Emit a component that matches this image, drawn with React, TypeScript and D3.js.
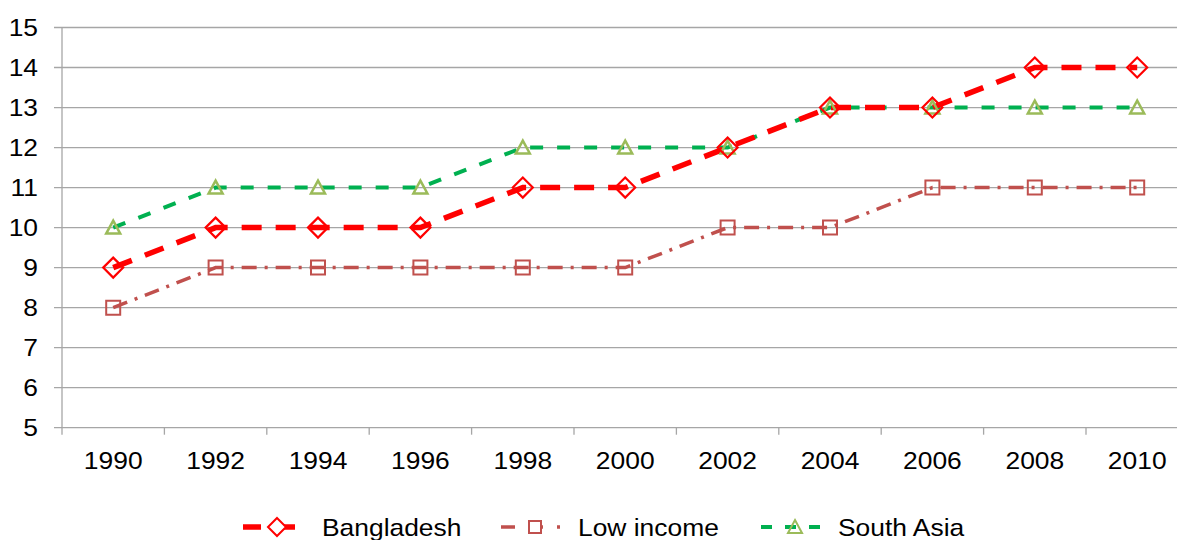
import React from "react";
import * as d3 from "d3";

const years = ["1990", "1992", "1994", "1996", "1998", "2000", "2002", "2004", "2006", "2008", "2010"];
const bangladesh = [9, 10, 10, 10, 11, 11, 12, 13, 13, 14, 14];
const lowIncome = [8, 9, 9, 9, 9, 9, 10, 10, 11, 11, 11];
const southAsia = [10, 11, 11, 11, 12, 12, 12, 13, 13, 13, 13];
const yTicks = [5, 6, 7, 8, 9, 10, 11, 12, 13, 14, 15];

const W = 1177;
const H = 540;
const left = 62;
const bandW = 102.4;
const top = 27.5;
const bottom = 427.7;

const FONT = "'Liberation Sans', Arial, sans-serif";

function T(props: { x: number; y: number; anchor?: "start" | "middle" | "end"; children: React.ReactNode }) {
  return (
    <text
      transform={`translate(${props.x},${props.y}) scale(1.1,1)`}
      dy="0.36em"
      textAnchor={props.anchor || "start"}
      fontSize={24}
      fill="#000"
    >
      {props.children}
    </text>
  );
}

export default function App() {
  const x = d3.scaleBand<string>().domain(years).range([left, left + bandW * years.length]);
  const y = d3.scaleLinear().domain([5, 15]).range([bottom, top]);
  const cx = (d: string) => (x(d) as number) + x.bandwidth() / 2;
  const line = d3
    .line<number>()
    .x((_, i) => cx(years[i]))
    .y((v) => y(v));

  const diamond = (px: number, py: number, r = 10) =>
    `M${px},${py - r}L${px + r},${py}L${px},${py + r}L${px - r},${py}Z`;
  const square = (px: number, py: number, r = 7) =>
    `M${px - r},${py - r}H${px + r}V${py + r}H${px - r}Z`;
  const triangle = (px: number, py: number, r = 7) =>
    `M${px},${py - r}L${px + r},${py + r * 0.85}L${px - r},${py + r * 0.85}Z`;

  const red = "#FF0000";
  const brick = "#C0504D";
  const green = "#00B050";
  const olive = "#9BBB59";

  const xEnd = left + bandW * years.length;
  const legY = 527;

  return (
    <svg
      width={W}
      height={H}
      style={{ position: "absolute", left: 0, top: 0, background: "#fff" }}
      fontFamily={FONT}
    >
      {yTicks.map((t) => (
        <line key={t} x1={54} x2={xEnd} y1={y(t)} y2={y(t)} stroke="#a6a6a6" strokeWidth={1.3} />
      ))}
      <line x1={left} x2={left} y1={top} y2={bottom} stroke="#a6a6a6" strokeWidth={1.3} />
      {years.map((yr) => (
        <line
          key={yr}
          x1={x(yr) as number}
          x2={x(yr) as number}
          y1={bottom}
          y2={bottom + 7}
          stroke="#a6a6a6"
          strokeWidth={1.3}
        />
      ))}
      {yTicks.map((t) => (
        <T key={t} x={38} y={y(t)} anchor="end">
          {t}
        </T>
      ))}
      {years.map((yr) => (
        <T key={yr} x={cx(yr)} y={460} anchor="middle">
          {yr}
        </T>
      ))}

      <path d={line(southAsia) as string} fill="none" stroke={green} strokeWidth={4} strokeDasharray="13 14" />
      <path
        d={line(lowIncome) as string}
        fill="none"
        stroke={brick}
        strokeWidth={3.5}
        strokeDasharray="15 8 3 8"
      />
      <path d={line(bangladesh) as string} fill="none" stroke={red} strokeWidth={5.5} strokeDasharray="20 14" />

      {lowIncome.map((v, i) => (
        <path key={"l" + i} d={square(cx(years[i]), y(v))} fill="none" stroke={brick} strokeWidth={2} />
      ))}
      {southAsia.map((v, i) => (
        <path key={"s" + i} d={triangle(cx(years[i]), y(v))} fill="none" stroke={olive} strokeWidth={2.5} />
      ))}
      {bangladesh.map((v, i) => (
        <path key={"b" + i} d={diamond(cx(years[i]), y(v))} fill="none" stroke={red} strokeWidth={2.2} />
      ))}

      <g>
        <line x1={243} x2={299} y1={legY} y2={legY} stroke={red} strokeWidth={5.5} strokeDasharray="18 16" />
        <path d={diamond(277, legY, 9)} fill="#fff" stroke={red} strokeWidth={2} />
        <T x={322} y={legY}>Bangladesh</T>

        <line x1={501} x2={560} y1={legY} y2={legY} stroke={brick} strokeWidth={3.5} strokeDasharray="14 14" />
        <path d={square(535, legY, 6)} fill="#fff" stroke={brick} strokeWidth={2} />
        <T x={578} y={legY}>Low income</T>

        <line x1={761} x2={830} y1={legY} y2={legY} stroke={green} strokeWidth={4} strokeDasharray="11 13" />
        <path d={triangle(795, legY, 7)} fill="none" stroke={olive} strokeWidth={2} />
        <T x={838} y={legY}>South Asia</T>
      </g>
    </svg>
  );
}
